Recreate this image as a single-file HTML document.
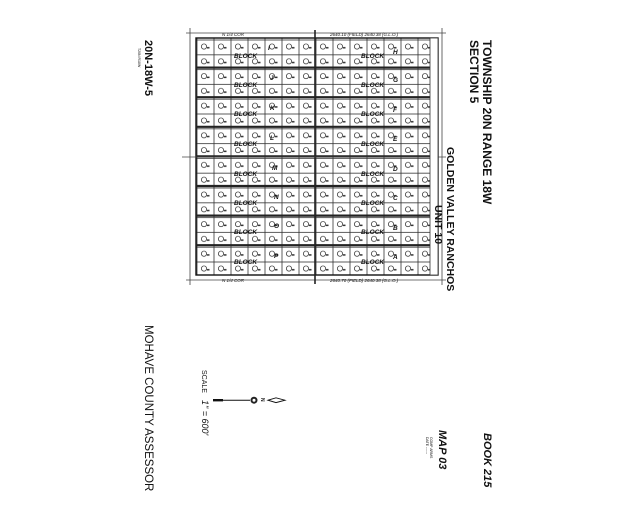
<!DOCTYPE html>
<html><head><style>
html,body{margin:0;padding:0;background:#fff;}
svg{display:block;}
text{font-family:"Liberation Sans",sans-serif;fill:#111;}
</style></head><body>
<svg width="640" height="516" viewBox="0 0 640 516" xmlns="http://www.w3.org/2000/svg">
<defs>
<pattern id="lot" x="197" y="40" width="17" height="14.8" patternUnits="userSpaceOnUse">
<rect x="0" y="0" width="17" height="14.8" fill="#fff" stroke="#333" stroke-width="0.8"/>
<circle cx="7" cy="6.5" r="2.6" fill="none" stroke="#222" stroke-width="0.7"/>
<rect x="10" y="7" width="2.5" height="1.5" fill="#333"/>
</pattern>
</defs>
<!-- outer frame lines -->
<line x1="186" y1="33" x2="446" y2="33" stroke="#444" stroke-width="0.8"/>
<line x1="186" y1="280" x2="446" y2="280" stroke="#444" stroke-width="0.8"/>
<line x1="190" y1="28" x2="190" y2="285" stroke="#444" stroke-width="0.8"/>
<line x1="442" y1="28" x2="442" y2="285" stroke="#444" stroke-width="0.8"/>
<!-- lot grid -->
<rect x="196" y="38" width="242" height="237" fill="url(#lot)" stroke="#111" stroke-width="1.4"/>
<!-- streets horizontal -->
<g stroke="#222" stroke-width="2.2">
<line x1="196" y1="67.6" x2="438" y2="67.6"/>
<line x1="196" y1="97.2" x2="438" y2="97.2"/>
<line x1="196" y1="126.8" x2="438" y2="126.8"/>
<line x1="196" y1="156.4" x2="438" y2="156.4"/>
<line x1="196" y1="186" x2="438" y2="186"/>
<line x1="196" y1="215.6" x2="438" y2="215.6"/>
<line x1="196" y1="245.2" x2="438" y2="245.2"/>
</g>
<line x1="315" y1="30" x2="315" y2="284" stroke="#222" stroke-width="1.6"/>
<line x1="182" y1="157" x2="446" y2="157" stroke="#444" stroke-width="0.8"/>
<rect x="430" y="38" width="8" height="237" fill="#fff" stroke="#333" stroke-width="0.8"/>
<!-- block labels -->
<g font-size="6.5" font-weight="bold" font-style="italic">
<text x="234" y="58">BLOCK</text><text x="268" y="50">I</text>
<text x="234" y="87">BLOCK</text><text x="270" y="80">J</text>
<text x="234" y="116">BLOCK</text><text x="270" y="110">K</text>
<text x="234" y="146">BLOCK</text><text x="270" y="140">L</text>
<text x="234" y="176">BLOCK</text><text x="272" y="170">M</text>
<text x="234" y="205">BLOCK</text><text x="274" y="199">N</text>
<text x="234" y="234">BLOCK</text><text x="274" y="228">O</text>
<text x="234" y="264">BLOCK</text><text x="274" y="258">P</text>
<text x="361" y="58">BLOCK</text><text x="393" y="54">H</text>
<text x="361" y="87">BLOCK</text><text x="393" y="82">G</text>
<text x="361" y="116">BLOCK</text><text x="393" y="112">F</text>
<text x="361" y="146">BLOCK</text><text x="393" y="141">E</text>
<text x="361" y="176">BLOCK</text><text x="393" y="171">D</text>
<text x="361" y="205">BLOCK</text><text x="393" y="200">C</text>
<text x="361" y="234">BLOCK</text><text x="393" y="230">B</text>
<text x="361" y="264">BLOCK</text><text x="393" y="259">A</text>
</g>
<g font-size="4.5" font-style="italic">
<text x="222" y="36">N 1/4 COR</text><text x="330" y="36">2640.10 (FIELD)  2640.38 (G.L.O.)</text>
<text x="222" y="282">N 1/4 COR</text><text x="330" y="282">2640.70 (FIELD)  2640.38 (G.L.O.)</text>
</g>
<!-- rotated titles -->
<g font-weight="bold">
<text transform="translate(483,40) rotate(90)" font-size="12">TOWNSHIP  20N  RANGE  18W</text>
<text transform="translate(470,40) rotate(90)" font-size="12">SECTION     5</text>
<text transform="translate(447,147) rotate(90)" font-size="10.5">GOLDEN    VALLEY    RANCHOS</text>
<text transform="translate(435,205) rotate(90)" font-size="10.5">UNIT  10</text>
<text transform="translate(484,433) rotate(90)" font-size="11" font-style="italic">BOOK   215</text>
<text transform="translate(439,430) rotate(90)" font-size="11" font-style="italic">MAP   03</text>
</g>
<text transform="translate(145,40) rotate(90)" font-size="11" font-weight="bold">20N-18W-5</text>
<text transform="translate(138,48) rotate(90)" font-size="3.5" fill="#777">T20N R18W</text>
<text transform="translate(145,325) rotate(90)" font-size="11.5">MOHAVE  COUNTY  ASSESSOR</text>
<text transform="translate(202,370) rotate(90)" font-size="7" fill="#555">SCALE</text>
<text transform="translate(202,400) rotate(90)" font-size="9" font-style="italic">1" = 600'</text>
<text transform="translate(430,437) rotate(90)" font-size="3.5" fill="#777">COMP  ARMS</text>
<text transform="translate(426,437) rotate(90)" font-size="3.5" fill="#777">DATE  ------</text>
<!-- north arrow -->
<rect x="213" y="399" width="10" height="2.4" fill="#111"/>
<line x1="223" y1="400.2" x2="250" y2="400.2" stroke="#111" stroke-width="1"/>
<circle cx="254" cy="400.2" r="3.5" fill="#222"/>
<circle cx="254" cy="400.2" r="1.5" fill="#fff"/>
<text transform="translate(261,398) rotate(90)" font-size="5" font-weight="bold">N</text>
<path d="M268 400.2 L276 397.8 L285 400.2 L276 402.6 Z" fill="#fff" stroke="#111" stroke-width="0.9"/>
</svg>
</body></html>
